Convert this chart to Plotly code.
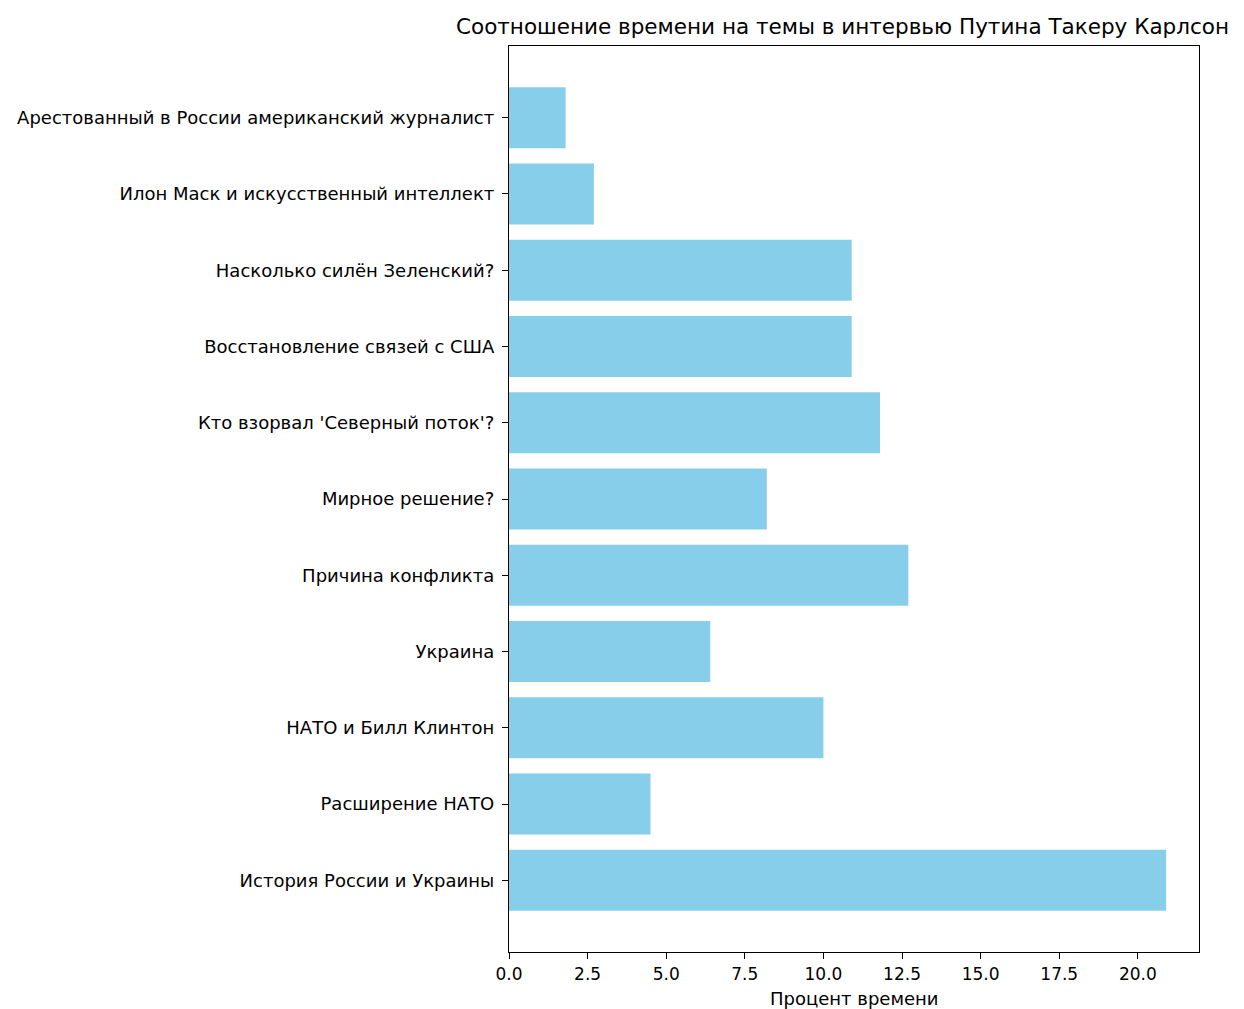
import plotly.graph_objects as go

topics = [
    "История России и Украины",
    "Расширение НАТО",
    "НАТО и Билл Клинтон",
    "Украина",
    "Причина конфликта",
    "Мирное решение?",
    "Кто взорвал 'Северный поток'?",
    "Восстановление связей с США",
    "Насколько силён Зеленский?",
    "Илон Маск и искусственный интеллект",
    "Арестованный в России американский журналист",
]
percent = [20.9, 4.5, 10.0, 6.4, 12.7, 8.2, 11.8, 10.9, 10.9, 2.7, 1.8]
x_ticks = [0, 2.5, 5, 7.5, 10, 12.5, 15, 17.5, 20]
x_tick_labels = ["0.0", "2.5", "5.0", "7.5", "10.0", "12.5", "15.0", "17.5", "20.0"]

font = "DejaVu Sans"
positions = list(range(len(topics)))

fig = go.Figure(go.Bar(
    x=percent, y=positions, orientation="h", width=0.8,
    marker=dict(color="#87CEEB", line=dict(width=0)),
    hoverinfo="skip",
))

xmax = max(percent) * 1.05
fig.update_layout(
    width=1244, height=1009,
    margin=dict(l=501, r=53, t=38, b=65),
    paper_bgcolor="white", plot_bgcolor="white",
    showlegend=False,
    font=dict(family=font, size=18, color="black"),
    xaxis=dict(
        range=[0, xmax], tickvals=x_ticks, ticktext=x_tick_labels,
        showgrid=False, zeroline=False, automargin=False,
        showline=True, linecolor="black", linewidth=1.3, mirror=True,
        ticks="outside", ticklen=6, tickwidth=1.2, tickcolor="black",
        tickfont=dict(family=font, size=17),
    ),
    yaxis=dict(
        range=[-0.94, len(topics) - 1 + 0.94],
        tickvals=positions, ticktext=topics,
        showgrid=False, zeroline=False, automargin=False,
        showline=True, linecolor="black", linewidth=1.3, mirror=True,
        ticks="outside", ticklen=6, tickwidth=1.2, tickcolor="black",
        ticklabelstandoff=4,
        tickfont=dict(family=font, size=18),
    ),
    annotations=[
        dict(text="Соотношение времени на темы в интервью Путина Такеру Карлсон",
             xref="paper", yref="paper", x=0.484, y=1, yshift=20,
             xanchor="center", yanchor="middle", showarrow=False,
             font=dict(family=font, size=21.5)),
        dict(text="Процент времени",
             xref="paper", yref="paper", x=0.5, y=0, yshift=-46,
             xanchor="center", yanchor="middle", showarrow=False,
             font=dict(family=font, size=18)),
    ],
)

fig.write_html("out.html")
